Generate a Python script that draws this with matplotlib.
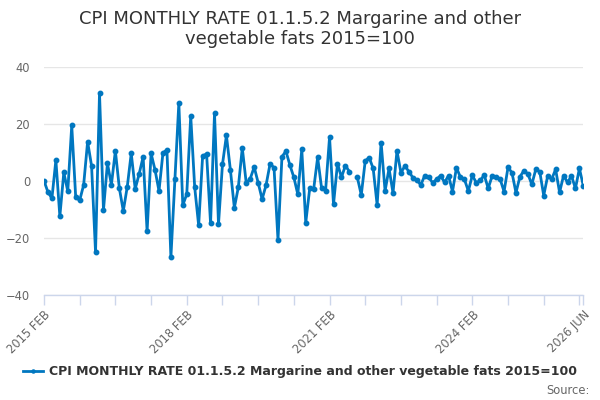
import numpy as np
import pandas as pd
import matplotlib
matplotlib.use('Agg')
import matplotlib.pyplot as plt

# monthly rate values, 2015 FEB .. 2026 JUN (one gap)
start_month = '2015-02'
rate_values = [
    0.1, -3.9, -6.1, 7.3, -12.4, 3.0, -3.6, 19.5, -5.7, -6.8,
    -1.4, 13.8, 5.3, -25.0, 30.8, -10.2, 6.2, -1.3, 10.6, -2.5,
    -10.5, -2.0, 9.7, -2.8, 2.5, 8.5, -17.7, 9.7, 3.9, -3.5,
    9.9, 10.9, -26.8, 0.6, 27.3, -8.5, -4.6, 22.8, -2.2, -15.6,
    8.8, 9.5, -14.9, 23.7, -15.2, 5.8, 16.0, 3.9, -9.4, -2.2,
    11.6, -0.8, 0.8, 4.9, -0.6, -6.4, -1.4, 6.0, 4.7, -20.7,
    8.5, 10.5, 5.6, 1.3, -4.7, 11.1, -14.6, -2.6, -2.8, 8.3,
    -2.6, -3.4, 15.4, -8.2, 6.1, 1.3, 5.4, 3.3, np.nan, 1.3,
    -4.9, 7.1, 8.2, 4.4, -8.4, 13.5, -3.5, 4.4, -4.2, 10.6,
    2.9, 5.3, 3.3, 1.2, 0.4, -1.4, 1.9, 1.3, -0.6, 0.6,
    1.9, -0.5, 1.9, -3.7, 4.7, 1.3, 0.6, -3.5, 2.0, -0.6,
    0.2, 2.1, -2.6, 1.8, 1.5, 0.7, -3.7, 4.8, 2.9, -4.1,
    1.5, 3.6, 2.5, -1.2, 4.1, 3.3, -5.1, 1.8, 0.6, 4.1,
    -4.0, 1.9, -0.5, 1.8, -2.6, 4.4, -1.8,
]
y_ticks = [-40, -20, 0, 20, 40]
x_label_months = ['2015-02', '2018-02', '2021-02', '2024-02', '2026-06']

title = 'CPI MONTHLY RATE 01.1.5.2 Margarine and other\nvegetable fats 2015=100'
series_name = 'CPI MONTHLY RATE 01.1.5.2 Margarine and other vegetable fats 2015=100'

months = pd.period_range(start_month, periods=len(rate_values), freq='M')
x = np.arange(len(rate_values))
line_col = '#0077c0'

fig = plt.figure(figsize=(6, 4), dpi=100)
ax = fig.add_axes([0.0733, 0.2625, 0.899, 0.57])

ax.plot(x, rate_values, color=line_col, lw=2, marker='o', ms=3.2,
        label=series_name, solid_joinstyle='round')

ax.set_xlim(0, len(rate_values) - 1)
ax.set_ylim(-40, 40)
ax.set_yticks(y_ticks)
ax.tick_params(axis='y', length=0, labelsize=8.3, labelcolor='#666666', pad=10)
ax.grid(axis='y', color='#e6e6e6', lw=1)
ax.set_axisbelow(True)

# ticks every 9 months plus the last month, labels every 36 months
tick_pos = list(range(0, len(rate_values) - 1, 9)) + [len(rate_values) - 1]
ax.set_xticks(tick_pos)
label_pos = [months.get_loc(pd.Period(m, 'M')) for m in x_label_months]
tick_txt = []
for p in tick_pos:
    if p in label_pos:
        tick_txt.append(months[p].strftime('%Y %b').upper())
    else:
        tick_txt.append('')
ax.set_xticklabels(tick_txt, rotation=45, ha='right', rotation_mode='anchor')
ax.tick_params(axis='x', length=7.5, width=1, color='#ccd6eb', direction='out',
               labelsize=8.3, labelcolor='#666666', pad=2)

for s in ['top', 'right', 'left']:
    ax.spines[s].set_visible(False)
ax.spines['bottom'].set_color('#ccd6eb')
ax.spines['bottom'].set_linewidth(1)

fig.text(0.5, 0.928, title, ha='center', va='center', fontsize=13,
         color='#333333', linespacing=1.15)

leg = fig.legend(loc='center', bbox_to_anchor=(0.5, 0.07), frameon=False,
                 fontsize=9, handlelength=1.6, handletextpad=0.5,
                 markerscale=0.7)
for t in leg.get_texts():
    t.set_color('#333333')
    t.set_fontweight('bold')

fig.text(0.983, 0.025, 'Source:', ha='right', va='center', fontsize=8.3,
         color='#666666')

fig.savefig('out.png', dpi=100)
